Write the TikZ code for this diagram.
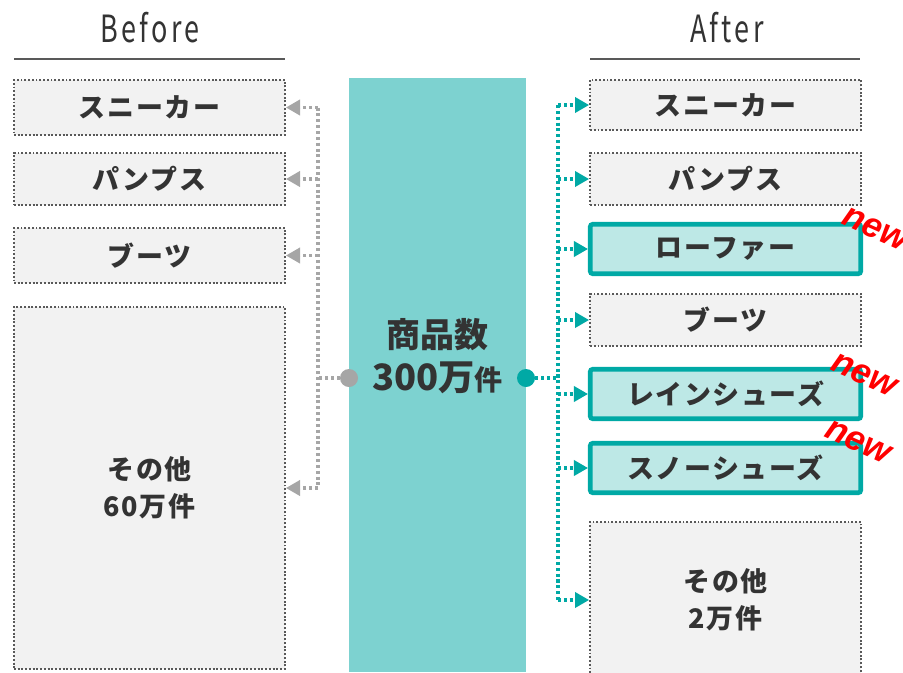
\documentclass[tikz,border=0pt]{standalone}
\usepackage{fontspec}
\setmainfont{Noto Sans CJK JP}
\newfontfamily\jpfont{Noto Sans CJK JP}[LetterSpace=6]
\newfontfamily\headfont{Noto Sans CJK JP}[LetterSpace=12]
\newfontfamily\markfont{Liberation Sans}
\usetikzlibrary{arrows.meta,positioning}
\definecolor{tealdark}{HTML}{00A9A5}
\definecolor{tealmid}{HTML}{7DD2D0}
\definecolor{teallight}{HTML}{BDE8E6}
\definecolor{boxgray}{HTML}{F2F2F2}
\definecolor{linegray}{HTML}{A6A6A6}
\definecolor{bordergray}{HTML}{595959}
\definecolor{textgray}{HTML}{333333}
\tikzset{
  item/.style={draw=bordergray, fill=boxgray, line width=1.6pt,
    dash pattern=on 1.6pt off 1.6pt, minimum width=8.13cm, inner sep=0pt,
    text=textgray, font=\jpfont\bfseries\fontsize{23}{32}\selectfont, align=center},
  newitem/.style={draw=tealdark, fill=teallight, line width=4pt, rounded corners=2pt,
    minimum width=8.11cm, inner sep=0pt,
    text=textgray, font=\jpfont\bfseries\fontsize{23}{32}\selectfont},
  oldlink/.style={draw=linegray, line width=2.6pt, dash pattern=on 2.6pt off 2.4pt},
  newlink/.style={draw=tealdark, line width=2.6pt, dash pattern=on 2.6pt off 2.4pt},
  oldtip/.style={-{Triangle[length=12pt,width=13pt,fill=linegray]}},
  newtip/.style={-{Triangle[length=12pt,width=13pt,fill=tealdark]}},
  newmark/.style={text=red, font=\markfont\bfseries\itshape\fontsize{30}{30}\selectfont, rotate=-24},
  head/.style={text=textgray, font=\headfont\fontsize{32}{32}\selectfont}
}
\begin{document}
\begin{tikzpicture}[x=0.03cm, y=-0.03cm]
  \useasboundingbox (0,0) rectangle (903,672);

  %%%%% headers %%%%%
  \node[head] (before) at (150,28) {\scalebox{0.72}[1]{Before}};
  \node[head] (after) at (727,28) {\scalebox{0.72}[1]{After}};
  \draw[bordergray, line width=2.5pt] (14,59) -- (285,59);
  \draw[bordergray, line width=2.5pt] (590,59) -- (860,59);

  %%%%% centre %%%%%
  \node[fill=tealmid, minimum width=5.31cm, minimum height=17.82cm, inner sep=0pt] (stock) at (437.5,375) {};
  \node[text=textgray, font=\bfseries\fontsize{29}{29}\selectfont] (stock1) at (437.5,335) {商品数};
  \node[text=textgray, font=\bfseries\fontsize{31}{31}\selectfont] (stock2) at (437.5,378)
    {300万{\fontsize{24}{24}\selectfont 件}};
  \node[circle, fill=linegray, minimum size=0.54cm, inner sep=0pt] (ldot) at (349,378) {};
  \node[circle, fill=tealdark, minimum size=0.54cm, inner sep=0pt] (rdot) at (526,378) {};

  %%%%% before %%%%%
  \node[item, minimum height=1.65cm] (lb1) at (149.5,107.5) {スニーカー};
  \node[item, minimum height=1.56cm] (lb2) at (149.5,179) {パンプス};
  \node[item, minimum height=1.65cm] (lb3) at (149.5,255.5) {ブーツ};
  \node[item, minimum height=10.86cm] (lb4) at (149.5,488) {その他\\60万件};

  %%%%% after %%%%%
  \node[item, minimum height=1.5cm] (rb1) at (725.5,105) {スニーカー};
  \node[item, minimum height=1.56cm] (rb2) at (725.5,179) {パンプス};
  \node[newitem, minimum height=1.48cm] (rb3) at (725.5,249) {ローファー};
  \node[item, minimum height=1.56cm] (rb4) at (725.5,320) {ブーツ};
  \node[newitem, minimum height=1.48cm] (rb5) at (725.5,394) {レインシューズ};
  \node[newitem, minimum height=1.48cm] (rb6) at (725.5,468) {スノーシューズ};
  \node[item, minimum height=4.68cm] (rb7) at (725.5,600) {その他\\2万件};

  \node[newmark] (new3) at (875,229) {new};
  \node[newmark] (new5) at (864,375) {new};
  \node[newmark] (new6) at (858,442) {new};

  %%%%% links %%%%%
  \coordinate (ljoin) at (318,378);
  \coordinate (rjoin) at (558,378);

  \draw[oldlink] (ldot) -- (ljoin);
  \draw[oldlink] (ljoin |- lb1.east) -- (ljoin |- lb4.east);
  \foreach \b in {lb1,lb2,lb3,lb4}
    \draw[oldlink, oldtip] (ljoin |- \b.east) -- (\b.east);

  \draw[newlink] (rdot) -- (rjoin);
  \draw[newlink] (rjoin |- rb1.west) -- (rjoin |- rb7.west);
  \foreach \b in {rb1,rb2,rb3,rb4,rb5,rb6,rb7}
    \draw[newlink, newtip] (rjoin |- \b.west) -- (\b.west);
\end{tikzpicture}
\end{document}
